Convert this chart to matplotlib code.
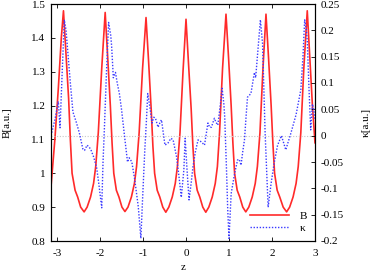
import matplotlib
matplotlib.use("Agg")
import matplotlib.pyplot as plt
from matplotlib.lines import Line2D

plt.rcParams['font.family'] = ['Liberation Serif', 'DejaVu Serif']
plt.rcParams['mathtext.fontset'] = 'dejavuserif'

# B(z) curve, traced
z_B = [-3.14, -3.05, -2.97, -2.90, -2.85, -2.79, -2.73, -2.69, -2.65, -2.58, -2.52, -2.45,
       -2.37, -2.30, -2.22, -2.15, -2.10, -2.04, -1.96, -1.88, -1.82, -1.76, -1.72, -1.68,
       -1.62, -1.56, -1.49, -1.42, -1.35, -1.27, -1.20, -1.15, -1.09, -1.01, -0.93, -0.87,
       -0.81, -0.77, -0.73, -0.67, -0.61, -0.54, -0.47, -0.40, -0.32, -0.25, -0.20, -0.14,
       -0.07, 0.0, 0.06, 0.12, 0.16, 0.20, 0.26, 0.32, 0.39, 0.46, 0.53, 0.61, 0.68, 0.73,
       0.78, 0.85, 0.93, 0.99, 1.05, 1.09, 1.13, 1.19, 1.25, 1.32, 1.39, 1.46, 1.54, 1.61,
       1.66, 1.72, 1.79, 1.86, 1.92, 1.98, 2.02, 2.06, 2.12, 2.18, 2.26, 2.34, 2.41, 2.49,
       2.56, 2.61, 2.67, 2.74, 2.82, 2.88, 2.94, 3.0]
B = [0.96, 1.10, 1.25, 1.40, 1.48, 1.35, 1.22, 1.10, 1.00, 0.95, 0.93, 0.90,
     0.886, 0.90, 0.93, 0.97, 1.02, 1.12, 1.31, 1.475, 1.34, 1.20, 1.09, 1.00,
     0.95, 0.93, 0.90, 0.887, 0.90, 0.93, 0.97, 1.02, 1.12, 1.31, 1.46, 1.33,
     1.19, 1.08, 1.00, 0.95, 0.93, 0.90, 0.885, 0.90, 0.93, 0.97, 1.02, 1.12,
     1.30, 1.455, 1.32, 1.19, 1.08, 1.00, 0.95, 0.93, 0.90, 0.885, 0.90, 0.93, 0.97, 1.02,
     1.12, 1.31, 1.47, 1.34, 1.20, 1.09, 1.00, 0.95, 0.93, 0.90, 0.886, 0.90, 0.93, 0.97,
     1.02, 1.12, 1.31, 1.47, 1.34, 1.20, 1.09, 1.00, 0.95, 0.93, 0.90, 0.886, 0.90, 0.93,
     0.97, 1.02, 1.12, 1.31, 1.48, 1.34, 1.20, 1.09]

# kappa(z) curve, traced
z_k = [-3.14, -3.05, -2.97, -2.93, -2.88, -2.83, -2.79, -2.74, -2.69, -2.63, -2.55, -2.48,
       -2.40, -2.36, -2.30, -2.22, -2.15, -2.08, -2.03, -1.96, -1.93, -1.90, -1.85, -1.80,
       -1.75, -1.73, -1.69, -1.64, -1.60, -1.55, -1.50, -1.42, -1.36, -1.32, -1.26, -1.19,
       -1.11, -1.05, -1.01, -0.96, -0.92, -0.89, -0.84, -0.79, -0.75, -0.71, -0.65, -0.60,
       -0.57, -0.49, -0.42, -0.35, -0.30, -0.22, -0.16, -0.11, -0.05, -0.02, 0.02, 0.07,
       0.12, 0.16, 0.22, 0.28, 0.36, 0.43, 0.51, 0.55, 0.59, 0.66, 0.70, 0.74, 0.80, 0.84,
       0.88, 0.90, 0.94, 0.97, 1.00, 1.05, 1.13, 1.20, 1.24, 1.28, 1.32, 1.36, 1.40, 1.43,
       1.51, 1.55, 1.59, 1.62, 1.67, 1.73, 1.78, 1.84, 1.91, 1.98, 2.05, 2.13, 2.22, 2.32,
       2.44, 2.56, 2.67, 2.72, 2.76, 2.80, 2.82, 2.86, 2.90, 2.94, 2.97, 3.0]
kappa = [0.0, 0.03, 0.065, 0.015, 0.12, 0.22, 0.20, 0.15, 0.10, 0.045, 0.025, 0.005,
         -0.025, -0.028, -0.018, -0.025, -0.04, -0.06, -0.09, -0.137, -0.05, 0.01, 0.12, 0.215,
         0.19, 0.17, 0.11, 0.12, 0.10, 0.08, 0.05, -0.008, -0.05, -0.042, -0.05, -0.085,
         -0.135, -0.195, -0.12, -0.03, 0.03, 0.08, 0.054, 0.024, 0.035, 0.033, 0.016, 0.026,
         0.03, -0.018, -0.014, -0.005, -0.008, -0.04, -0.08, -0.117, -0.065, -0.005, -0.06, -0.122,
         -0.09, -0.06, -0.03, -0.008, -0.012, -0.018, 0.024, 0.016, 0.016, 0.033, 0.025, 0.02, 0.06, 0.09,
         0.06, 0.036, -0.06, -0.14, -0.195, -0.11, -0.072, -0.046, -0.045, -0.056, -0.03, -0.008, 0.04, 0.073,
         0.08, 0.10, 0.12, 0.11, 0.16, 0.22, 0.175, 0.005, -0.136, -0.09, -0.052, -0.018, 0.0, -0.027,
         0.005, 0.04, 0.087, 0.15, 0.22, 0.20, 0.18, 0.09, 0.011, 0.06, 0.05, 0.03]

x_ticks = [-3, -2, -1, 0, 1, 2, 3]
B_ticks = [0.8, 0.9, 1.0, 1.1, 1.2, 1.3, 1.4, 1.5]
B_labels = ['0.8', '0.9', '1', '1.1', '1.2', '1.3', '1.4', '1.5']
k_ticks = [-0.2, -0.15, -0.1, -0.05, 0.0, 0.05, 0.1, 0.15, 0.2, 0.25]
k_labels = ['-0.2', '-0.15', '-0.1', '-0.05', '0', '0.05', '0.1', '0.15', '0.2', '0.25']

fig = plt.figure(figsize=(3.74, 2.74), dpi=100)
ax = fig.add_axes([51/374, 1-241/274, (315-51)/374, (241-4)/274])
ax2 = ax.twinx()

red = '#ff2a2a'
blue = '#3a3aff'

ax2.axhline(0, color='#c8c8c8', lw=0.8, ls=(0, (1, 1.5)), zorder=0)
ax.plot(z_B, B, color=red, lw=1.2)
ax2.plot(z_k, kappa, color=blue, lw=1.0, ls=(0, (1, 1.2)))

ax.set_xlim(-3.14, 3.0)
ax.set_ylim(0.8, 1.5)
ax2.set_ylim(-0.2, 0.25)

fs = 8
ax.set_xticks(x_ticks)
ax.set_xticklabels([str(t) for t in x_ticks], fontsize=fs)
ax.set_yticks(B_ticks)
ax.set_yticklabels(B_labels, fontsize=fs)
ax2.set_yticks(k_ticks)
ax2.set_yticklabels(k_labels, fontsize=fs)

ax.tick_params(axis='x', direction='in', top=True, length=3, width=0.6, pad=6)
ax.tick_params(axis='y', direction='in', right=False, length=3, width=0.6, pad=4)
ax2.tick_params(axis='y', direction='in', length=3, width=0.6, pad=4)

for a in (ax, ax2):
    for s in a.spines.values():
        s.set_linewidth(0.8)

ax.set_xlabel('z', fontsize=fs, labelpad=3)
ax.set_ylabel('B[a.u.]', fontsize=fs, labelpad=14)
ax2.set_ylabel('κ[a.u.]', fontsize=fs, labelpad=13)

handles = [Line2D([], [], color=red, lw=1.2), Line2D([], [], color=blue, lw=1.0, ls=(0, (1, 1.2)))]
ax2.legend(handles, ['B', 'κ'], loc='lower right', frameon=False, fontsize=fs,
           handlelength=3.5, handletextpad=1.0, labelspacing=0.2, borderaxespad=0.3)

fig.savefig('out.png', dpi=100)
